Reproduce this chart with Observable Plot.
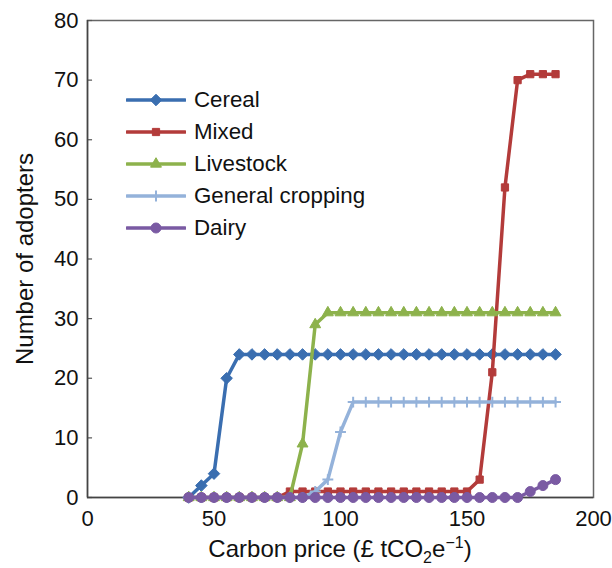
<!DOCTYPE html>
<html><head><meta charset="utf-8">
<script src="https://cdn.jsdelivr.net/npm/d3@7"></script>
<script src="https://cdn.jsdelivr.net/npm/@observablehq/plot@0.6"></script>
<style>
body{margin:0;background:#fff;font-family:"Liberation Sans",Arial,sans-serif;}
#wrap{position:relative;width:612px;height:568px;}
#xtitle{position:absolute;left:87px;width:506px;top:535px;text-align:center;font-size:24px;color:#111;}
#xtitle sub,#xtitle sup{font-size:16px;line-height:0;}
#legend{position:absolute;left:126px;top:84px;}
.row{display:flex;align-items:center;height:32px;font-size:22.3px;color:#111;}
.row svg{margin-right:8px;}
</style></head><body><div id="wrap"></div>
<script>
const price = [40,45,50,55,60,65,70,75,80,85,90,95,100,105,110,115,120,125,130,135,140,145,150,155,160,165,170,175,180,185];
const cereal = [0,2,4,20,24,24,24,24,24,24,24,24,24,24,24,24,24,24,24,24,24,24,24,24,24,24,24,24,24,24];
const mixed = [0,0,0,0,0,0,0,0,1,1,1,1,1,1,1,1,1,1,1,1,1,1,1,3,21,52,70,71,71,71];
const livestock = [0,0,0,0,0,0,0,0,0,9,29,31,31,31,31,31,31,31,31,31,31,31,31,31,31,31,31,31,31,31];
const generalCropping = [0,0,0,0,0,0,0,0,0,0,1,3,11,16,16,16,16,16,16,16,16,16,16,16,16,16,16,16,16,16];
const dairy = [0,0,0,0,0,0,0,0,0,0,0,0,0,0,0,0,0,0,0,0,0,0,0,0,0,0,0,1,2,3];
const seriesNames = ["Cereal","Mixed","Livestock","General cropping","Dairy"];
const seriesValues = [cereal, mixed, livestock, generalCropping, dairy];
const colors = ["#3a6eb0","#b33b3a","#8db24c","#94b2da","#7a5aa3"];
const symbols = ["diamond2","square2","triangle2","plus","circle"];
const sizes = [5.2,4.6,5.2,3.6,5];
const xTicks = [0,50,100,150,200];
const yTicks = [0,10,20,30,40,50,60,70,80];

const marks = [];
seriesNames.forEach((name,i)=>{
  const rows = price.map((p,j)=>({price:p, n:seriesValues[i][j]}));
  marks.push(Plot.line(rows,{x:"price",y:"n",stroke:colors[i],strokeWidth:3.5}));
  marks.push(Plot.dot(rows,{x:"price",y:"n",symbol:symbols[i],r:sizes[i],fill:symbols[i]==="plus"?"none":colors[i],stroke:colors[i],strokeWidth:symbols[i]==="plus"?2:1}));
});

const chart = Plot.plot({
  width:612, height:568,
  marginLeft:87, marginRight:19, marginTop:20, marginBottom:71,
  style:{fontFamily:'"Liberation Sans",Arial,sans-serif', fontSize:"22px", color:"#111", background:"#fff"},
  x:{domain:[0,200]},
  y:{domain:[0,80]},
  marks:[
    Plot.frame({stroke:"#666",strokeWidth:1.5}),
    Plot.ruleY(yTicks,{x1:0,x2:2,stroke:"#555",strokeWidth:1.2}),
    Plot.axisX({ticks:xTicks,tickSize:0,tickPadding:13,label:null,fill:"#111"}),
    Plot.axisY({ticks:yTicks,tickSize:0,tickPadding:9,label:null,fill:"#111"}),
    Plot.axisY({ticks:[],tickSize:0,label:"Number of adopters",labelAnchor:"center",labelArrow:"none",labelOffset:72,fill:"#111",fontSize:"24px"}),
    Plot.ruleX([0],{stroke:"#444",strokeWidth:1.5}),
    Plot.ruleY([0],{stroke:"#444",strokeWidth:1.5}),
    ...marks
  ]
});
const wrap = document.getElementById("wrap");
wrap.appendChild(chart);

const xt = document.createElement("div");
xt.id = "xtitle";
xt.innerHTML = "Carbon price (£ tCO<sub>2</sub>e<sup>−1</sup>)";
wrap.appendChild(xt);

const leg = document.createElement("div");
leg.id = "legend";
seriesNames.forEach((name,i)=>{
  const row = document.createElement("div");
  row.className = "row";
  const s = d3.create("svg").attr("width",60).attr("height",16);
  s.append("line").attr("x1",1).attr("x2",59).attr("y1",8).attr("y2",8).attr("stroke",colors[i]).attr("stroke-width",3.5).attr("stroke-linecap","round");
  const symMap = {diamond2:d3.symbolDiamond2,square2:d3.symbolSquare2,triangle2:d3.symbolTriangle2,plus:d3.symbolPlus,circle:d3.symbolCircle};
  s.append("path").attr("transform","translate(30,8)")
    .attr("d",d3.symbol(symMap[symbols[i]], Math.PI*sizes[i]*sizes[i])())
    .attr("fill",symbols[i]==="plus"?"none":colors[i]).attr("stroke",colors[i]).attr("stroke-width",symbols[i]==="plus"?2:1);
  row.appendChild(s.node());
  const t = document.createElement("span");
  t.textContent = name;
  row.appendChild(t);
  leg.appendChild(row);
});
wrap.appendChild(leg);
</script></body></html>
